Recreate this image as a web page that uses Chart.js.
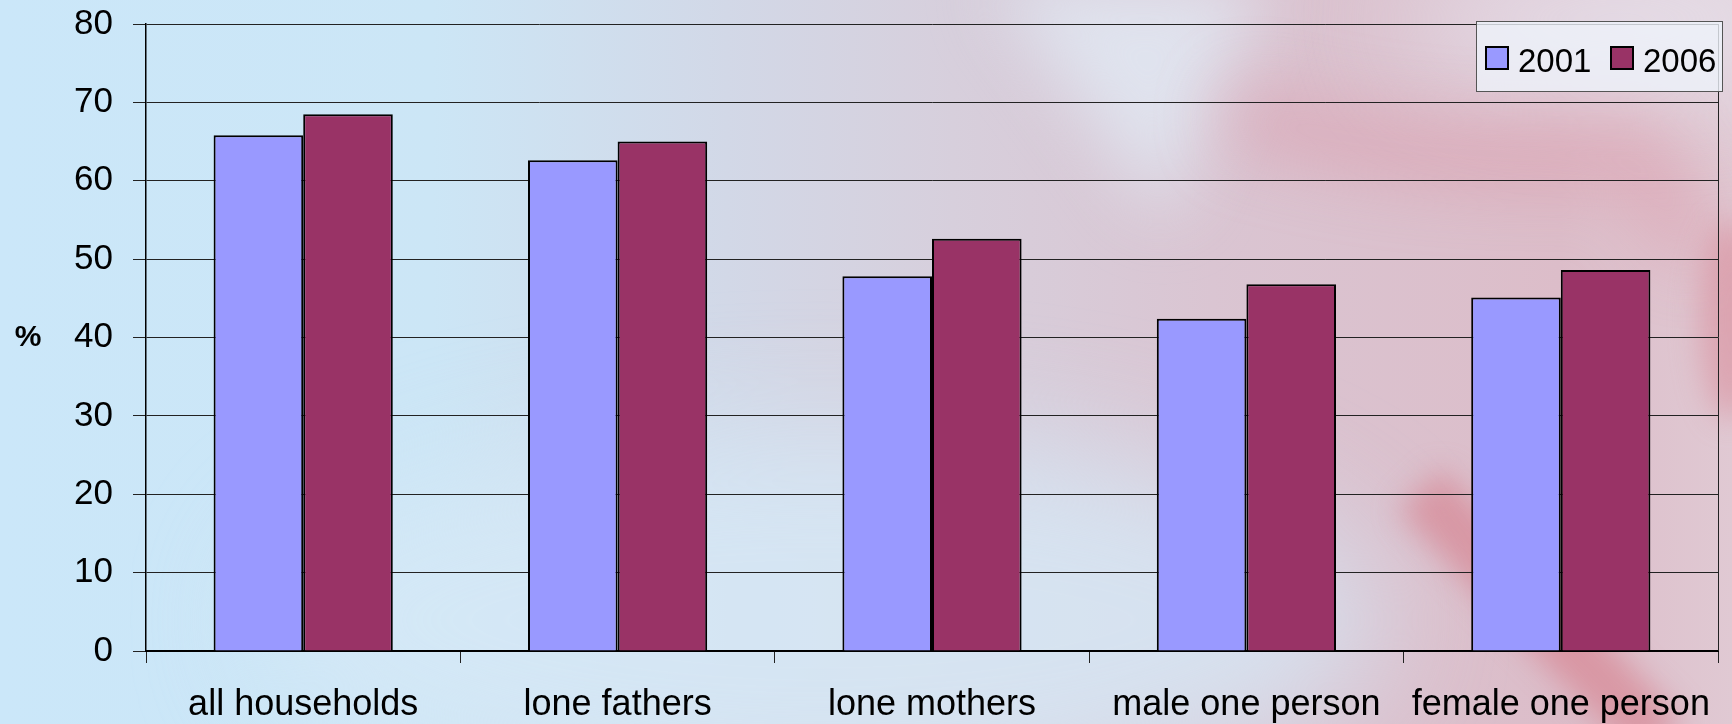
<!DOCTYPE html>
<html>
<head>
<meta charset="utf-8">
<script src="https://cdn.jsdelivr.net/npm/chart.js@4.4.0/dist/chart.umd.min.js"></script>
<style>
  html, body { margin: 0; padding: 0; }
  body { width: 1732px; height: 724px; overflow: hidden; background: #cbe7f9; }
  #wrap { position: relative; width: 1732px; height: 724px; }
</style>
</head>
<body>
<div id="wrap"><canvas id="mycanvas" width="1732" height="724"></canvas></div>
<script>
// categories and values (percent)
var categories = ['all households', 'lone fathers', 'lone mothers', 'male one person', 'female one person'];
var years = ['2001', '2006'];
var values2001 = [65.8, 62.6, 47.8, 42.4, 45.1];
var values2006 = [68.5, 65.0, 52.6, 46.8, 48.6];
var yTicks = [0, 10, 20, 30, 40, 50, 60, 70, 80];
var yLabel = '%';

var colors = ['#9999ff', '#993366'];

// faded flag-like backdrop, painted before the chart
var backdrop = {
  id: 'backdrop',
  beforeDraw: function(chart) {
    var ctx = chart.ctx;
    var w = chart.width, h = chart.height;
    ctx.save();
    var g = ctx.createLinearGradient(0, 0, w, 0);
    g.addColorStop(0, '#cbe7f9');
    g.addColorStop(0.25, '#cce6f6');
    g.addColorStop(0.42, '#d2d8e7');
    g.addColorStop(0.55, '#d7cfdc');
    g.addColorStop(0.7, '#dac5d2');
    g.addColorStop(0.9, '#dcbdc9');
    g.addColorStop(1, '#e0c9d3');
    ctx.fillStyle = g;
    ctx.fillRect(0, 0, w, h);

    ctx.filter = 'blur(60px)';
    // bluish wash low in the middle
    ctx.fillStyle = 'rgba(214,232,246,0.8)';
    ctx.beginPath();
    ctx.ellipse(820, 620, 560, 190, 0, 0, Math.PI * 2);
    ctx.fill();
    // pale top right corner
    ctx.fillStyle = 'rgba(232,236,246,0.8)';
    ctx.beginPath();
    ctx.ellipse(1620, 20, 220, 60, 0, 0, Math.PI * 2);
    ctx.fill();

    ctx.filter = 'blur(35px)';
    // pale V streak at the top
    ctx.fillStyle = 'rgba(226,240,250,0.7)';
    ctx.beginPath();
    ctx.moveTo(990, -20);
    ctx.lineTo(1270, -20);
    ctx.lineTo(1165, 220);
    ctx.closePath();
    ctx.fill();
    // pink curve upper right
    ctx.strokeStyle = 'rgba(220,140,158,0.5)';
    ctx.lineWidth = 50;
    ctx.beginPath();
    ctx.moveTo(1230, 110);
    ctx.quadraticCurveTo(1420, 170, 1640, 150);
    ctx.lineTo(1700, 260);
    ctx.stroke();

    ctx.filter = 'blur(15px)';
    // red band lower right
    ctx.strokeStyle = 'rgba(214,112,126,0.5)';
    ctx.lineWidth = 60;
    ctx.beginPath();
    ctx.moveTo(1420, 490);
    ctx.lineTo(1660, 740);
    ctx.stroke();
    // red at the right edge
    ctx.fillStyle = 'rgba(214,120,135,0.45)';
    ctx.beginPath();
    ctx.ellipse(1730, 320, 30, 100, 0, 0, Math.PI * 2);
    ctx.fill();
    ctx.restore();
  }
};

// right frame line, legend box and the % label
var extras = {
  id: 'extras',
  afterDraw: function(chart) {
    var ctx = chart.ctx;
    var a = chart.chartArea;
    ctx.save();
    ctx.strokeStyle = '#222';
    ctx.lineWidth = 1;
    ctx.beginPath();
    ctx.moveTo(Math.round(a.right) + 0.5, a.top);
    ctx.lineTo(Math.round(a.right) + 0.5, a.bottom);
    ctx.stroke();

    // %
    ctx.fillStyle = '#000';
    ctx.font = 'bold 30px "Liberation Sans", Arial, sans-serif';
    ctx.textAlign = 'center';
    ctx.textBaseline = 'middle';
    ctx.fillText(yLabel, 28, 338);

    // legend
    ctx.fillStyle = 'rgba(238,242,250,0.8)';
    ctx.fillRect(1476, 21, 246, 70);
    ctx.strokeStyle = '#555';
    ctx.strokeRect(1476.5, 21.5, 246, 70);
    var xs = [1486, 1611];
    ctx.font = '33px "Liberation Sans", Arial, sans-serif';
    ctx.textAlign = 'left';
    ctx.textBaseline = 'alphabetic';
    chart.data.datasets.forEach(function(ds, i) {
      ctx.fillStyle = ds.backgroundColor;
      ctx.fillRect(xs[i], 47, 22, 22);
      ctx.strokeStyle = '#000';
      ctx.lineWidth = 2;
      ctx.strokeRect(xs[i], 47, 22, 22);
      ctx.fillStyle = '#000';
      ctx.fillText(ds.label, xs[i] + 32, 72);
    });
    ctx.restore();
  }
};

var chartdata = {
  labels: categories,
  datasets: [
    { label: years[0], data: values2001, backgroundColor: colors[0], borderColor: '#000', borderWidth: 2 },
    { label: years[1], data: values2006, backgroundColor: colors[1], borderColor: '#000', borderWidth: 2 }
  ]
};

var ctx = document.getElementById('mycanvas');
var mychart = new Chart(ctx, {
  type: 'bar',
  data: chartdata,
  plugins: [backdrop, extras],
  options: {
    responsive: false,
    animation: false,
    layout: { padding: { left: 0, right: 14, top: 24, bottom: 0 } },
    datasets: { bar: { categoryPercentage: 0.57, barPercentage: 1.0 } },
    plugins: { legend: { display: false }, tooltip: { enabled: false } },
    scales: {
      x: {
        grid: { display: true, drawOnChartArea: false, drawTicks: true, tickLength: 12, color: '#222', offset: true },
        border: { display: true, color: '#000', width: 2 },
        ticks: {
          color: '#000', padding: 20, maxRotation: 0, autoSkip: false,
          font: { family: '"Liberation Sans", Arial, sans-serif', size: 36 }
        },
        afterFit: function(scale) { scale.height = 73; }
      },
      y: {
        min: yTicks[0], max: yTicks[yTicks.length - 1],
        afterBuildTicks: function(scale) { scale.ticks = yTicks.map(function(v) { return { value: v }; }); },
        grid: { color: '#222', lineWidth: 1, tickLength: 13 },
        border: { display: true, color: '#000', width: 1.5 },
        ticks: {
          color: '#000', padding: 20,
          font: { family: '"Liberation Sans", Arial, sans-serif', size: 35 }
        },
        afterFit: function(scale) {
          scale.width = 146;
          scale.paddingTop = 0;
          scale.paddingBottom = 0;
        }
      }
    }
  }
});
</script>
</body>
</html>
